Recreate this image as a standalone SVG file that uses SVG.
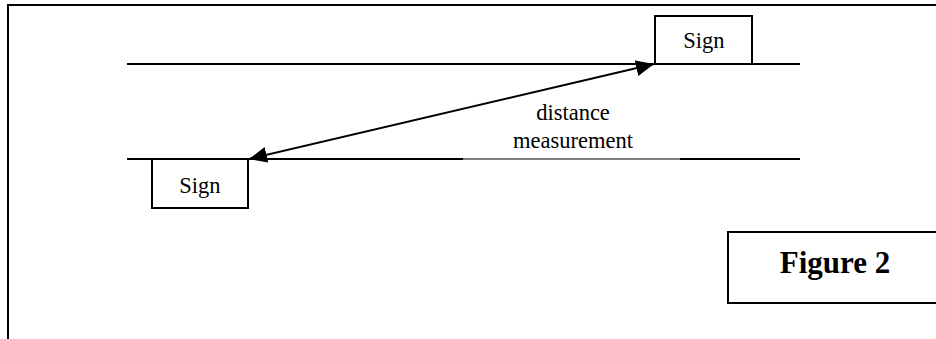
<svg xmlns="http://www.w3.org/2000/svg" width="936" height="339" viewBox="0 0 936 339">
<style>
.ln{stroke:#000;stroke-width:2;fill:none}
.box{stroke:#000;stroke-width:2;fill:#fff}
.t{font-family:"Liberation Serif","Times New Roman",serif;font-size:22.5px;fill:#000;text-anchor:middle}
.fig{font-family:"Liberation Serif","Times New Roman",serif;font-size:31px;font-weight:bold;fill:#000;text-anchor:middle}
</style>
<defs>
<marker id="ah" viewBox="0 0 10 10" refX="10" refY="5" markerWidth="18" markerHeight="16" markerUnits="userSpaceOnUse" orient="auto-start-reverse" preserveAspectRatio="none">
<path d="M0,0 L10,5 L0,10 z" fill="#000"/>
</marker>
</defs>
<rect width="936" height="339" fill="#fff"/>
<g id="frame">
<path class="ln" d="M8,339 V5 H936" stroke-width="2.5"/>
</g>
<g id="roads">
<line class="ln" x1="127" y1="64" x2="800" y2="64"/>
<line class="ln" x1="127" y1="159" x2="463" y2="159"/>
<line x1="463" y1="159" x2="680" y2="159" stroke="#000" stroke-width="1"/>
<line class="ln" x1="680" y1="159" x2="800" y2="159"/>
</g>
<g id="sign-top">
<rect class="box" x="655" y="16" width="97" height="48"/>
<text class="t" x="704" y="48">Sign</text>
</g>
<g id="sign-bottom">
<rect class="box" x="152" y="159" width="96" height="49"/>
<text class="t" x="200" y="193">Sign</text>
</g>
<g id="connectors">
<line class="ln" x1="654" y1="64" x2="249" y2="159" marker-start="url(#ah)" marker-end="url(#ah)"/>
</g>
<g id="label">
<text class="t" x="573" y="120">distance</text>
<text class="t" x="573" y="148">measurement</text>
</g>
<g id="figure-label">
<rect class="box" x="728" y="232" width="214" height="71"/>
<text class="fig" x="835" y="273">Figure 2</text>
</g>
</svg>
